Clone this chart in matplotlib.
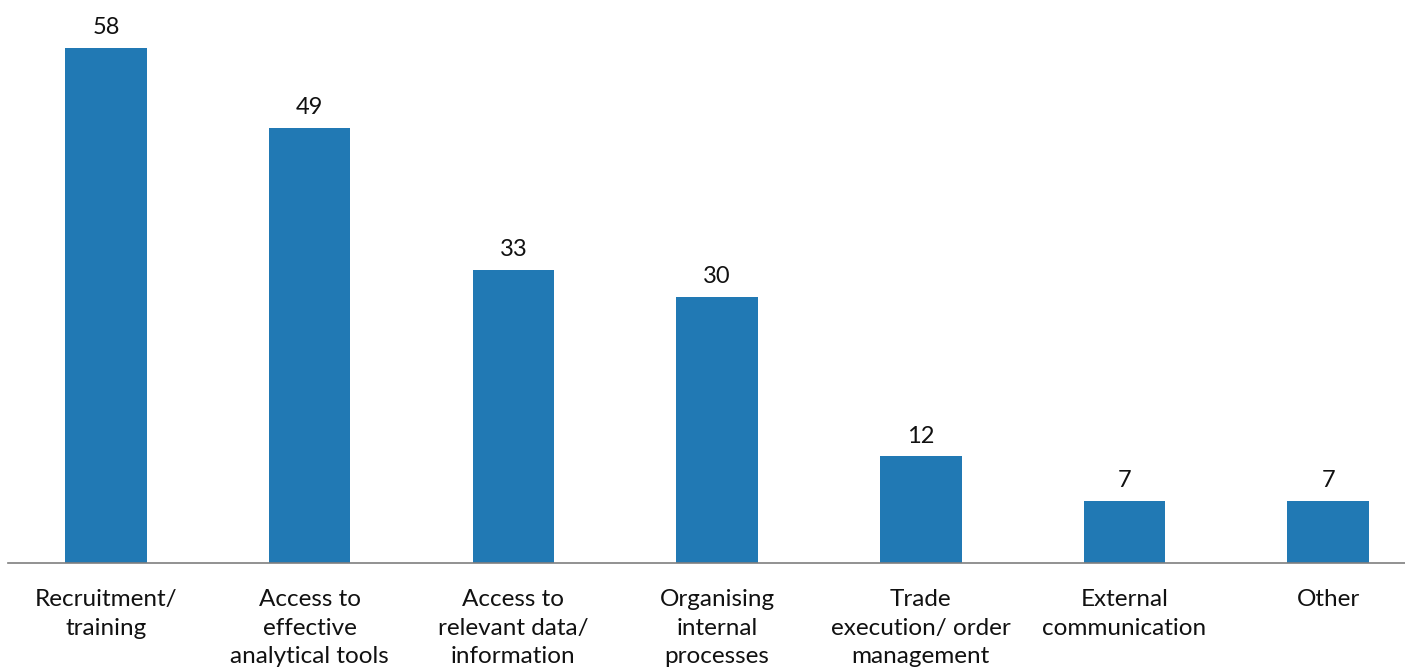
import matplotlib.pyplot as plt

# категории и значения
categories = [
    "Recruitment/\ntraining",
    "Access to\neffective\nanalytical tools",
    "Access to\nrelevant data/\ninformation",
    "Organising\ninternal\nprocesses",
    "Trade\nexecution/ order\nmanagement",
    "External\ncommunication",
    "Other",
]
values = [58, 49, 33, 30, 12, 7, 7]

plt.rcParams['font.family'] = ['Lato', 'DejaVu Sans']

fig = plt.figure(figsize=(14.05, 6.68), dpi=100)
ax = fig.add_axes([8 / 1405, 105 / 668, 1397 / 1405, 563 / 668])

x = range(len(values))
bars = ax.bar(x, values, width=0.40, color='#2179b4')

# подписи над столбцами
for b, v in zip(bars, values):
    ax.annotate(str(v), (b.get_x() + b.get_width() / 2, v),
                xytext=(0, 7), textcoords='offset points',
                ha='center', va='bottom', fontsize=17, color='#111111')

ax.set_xlim(-0.481, 6.377)
ax.set_ylim(0, 63.4)
ax.set_xticks(list(x))
ax.set_xticklabels(categories, fontsize=17.5, color='#111111', linespacing=1.42)
ax.tick_params(axis='x', length=0, pad=19)
ax.set_yticks([])

for s in ['top', 'right', 'left']:
    ax.spines[s].set_visible(False)
ax.spines['bottom'].set_color('#7f7f7f')
ax.spines['bottom'].set_linewidth(1.2)

fig.savefig('out.png', dpi=100)
